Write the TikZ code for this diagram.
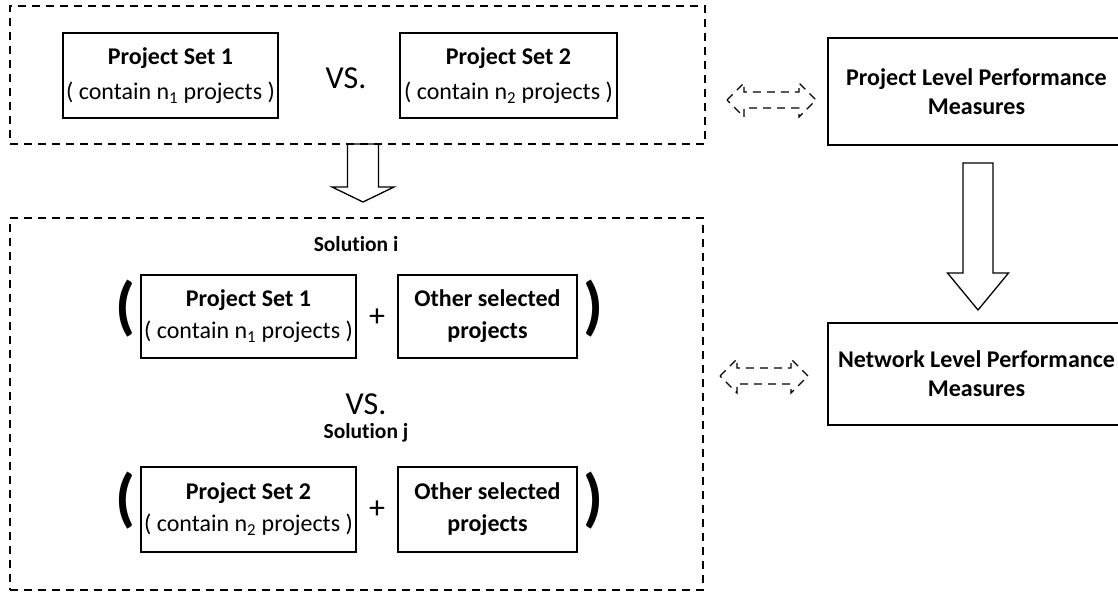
\documentclass[tikz,border=0pt]{standalone}
\usepackage{fontspec}
\setmainfont{Carlito}[Ligatures={NoCommon}]
\newcommand\hollowdown[6]{% x, ytop, ytip, shaft half, head half, head length
  \draw[hollow] (#1-#4,#2) -- (#1+#4,#2) -- (#1+#4,#3-#6) -- (#1+#5,#3-#6) -- (#1,#3)
    -- (#1-#5,#3-#6) -- (#1-#4,#3-#6) -- cycle;}
\newcommand\dashdouble[6]{% x0, x1, yc, shaft half, head half, head length
  \draw[dashbox] (#1,#3) -- (#1+#6,#3-#5) -- (#1+#6,#3-#4) -- (#2-#6,#3-#4) -- (#2-#6,#3-#5)
    -- (#2,#3) -- (#2-#6,#3+#5) -- (#2-#6,#3+#4) -- (#1+#6,#3+#4) -- (#1+#6,#3+#5) -- cycle;}
\begin{document}
\begin{tikzpicture}[x=1pt,y=-1pt,
  box/.style={draw, line width=1.4pt, inner sep=0pt, align=center,
    font=\fontsize{24}{35}\selectfont},
  sbox/.style={box, font=\fontsize{24}{32}\selectfont},
  rbox/.style={box, font=\fontsize{24}{29}\selectfont\bfseries},
  dashbox/.style={draw, line width=1.3pt, dash pattern=on 8pt off 6pt},
  hollow/.style={draw, line width=1.3pt, line join=miter},
  vs/.style={font=\fontsize{32}{32}\selectfont, inner sep=0pt},
  sol/.style={font=\fontsize{21.5}{21.5}\selectfont\bfseries, inner sep=0pt},
  paren/.style={font=\fontsize{64}{64}\selectfont\bfseries, inner sep=0pt},
  plus/.style={font=\fontsize{32}{32}\selectfont, inner sep=0pt}]
\useasboundingbox (0,0) rectangle (1118,595);

% top group
\node[dashbox, minimum width=695, minimum height=138] (topbox) at (357.5,75) {};
\node[box, minimum width=215, minimum height=85] (ps1a) at (170.5,75.5)
  {\textbf{Project Set 1}\\( contain n\textsubscript{1} projects )};
\node[vs] (vsa) at (346,78) {VS.};
\node[box, minimum width=217, minimum height=85] (ps2a) at (508.5,75.5)
  {\textbf{Project Set 2}\\( contain n\textsubscript{2} projects )};

% bottom group
\node[dashbox, minimum width=693, minimum height=372] (botbox) at (356.5,404) {};
\node[sol] (soli) at (356,244) {Solution i};
\node[paren] (lp1) at (125,309) {(};
\node[sbox, minimum width=215, minimum height=83] (ps1b) at (248.5,316.5)
  {\textbf{Project Set 1}\\( contain n\textsubscript{1} projects )};
\node[plus] (plus1) at (377,318) {+};
\node[sbox, minimum width=179, minimum height=83, font=\fontsize{24}{32}\selectfont\bfseries] (oth1) at (487.5,316.5)
  {Other selected\\projects};
\node[paren] (rp1) at (593,309) {)};

\node[vs] (vsb) at (366,404) {VS.};
\node[sol] (solj) at (366,433) {Solution j};
\node[paren] (lp2) at (125,501) {(};
\node[sbox, minimum width=215, minimum height=85] (ps2b) at (248.5,509.5)
  {\textbf{Project Set 2}\\( contain n\textsubscript{2} projects )};
\node[plus] (plus2) at (377,510) {+};
\node[sbox, minimum width=179, minimum height=85, font=\fontsize{24}{32}\selectfont\bfseries] (oth2) at (487.5,509.5)
  {Other selected\\projects};
\node[paren] (rp2) at (593,501) {)};

% right column
\node[rbox, minimum width=297, minimum height=107] (plp) at (976.5,91.5)
  {Project Level Performance\\Measures};
\node[rbox, minimum width=297, minimum height=102] (nlp) at (976.5,374)
  {Network Level Performance\\Measures};

% arrows
\hollowdown{363}{144}{202}{15.5}{31}{15}
\hollowdown{978}{163}{310}{15}{30.5}{37}
\dashdouble{727}{816}{100}{8}{17}{17}
\dashdouble{720}{808}{376}{8}{17}{17}
\end{tikzpicture}
\end{document}
